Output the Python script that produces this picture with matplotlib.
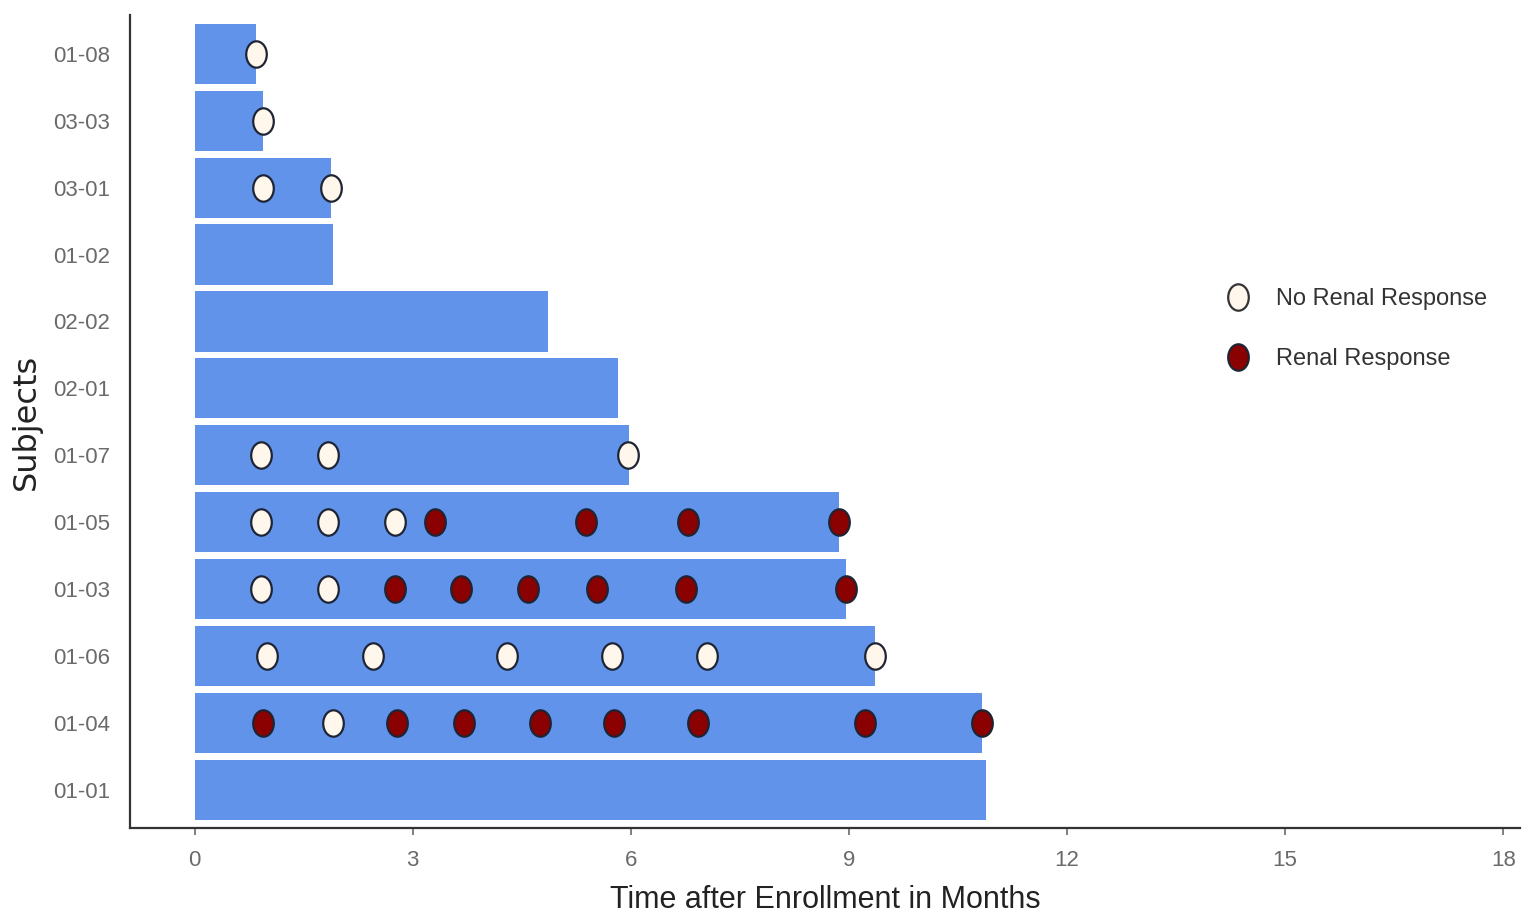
import matplotlib
matplotlib.use('Agg')
import matplotlib.pyplot as plt
from matplotlib.path import Path
from matplotlib.transforms import Affine2D
from matplotlib.lines import Line2D

plt.rcParams['font.family'] = ['Liberation Sans Narrow', 'Liberation Sans', 'DejaVu Sans']

# subjects, bottom to top
subjects = ['01-01', '01-04', '01-06', '01-03', '01-05', '01-07',
            '02-01', '02-02', '01-02', '03-01', '03-03', '01-08']
# months on study
durations = [10.88, 10.83, 9.36, 8.96, 8.86, 5.97,
             5.83, 4.86, 1.90, 1.87, 0.94, 0.84]

# visits with no renal response (subject, month)
no_resp_subj = ['01-08', '03-03', '03-01', '03-01',
                '01-07', '01-07', '01-07',
                '01-05', '01-05', '01-05',
                '01-03', '01-03',
                '01-06', '01-06', '01-06', '01-06', '01-06', '01-06',
                '01-04']
no_resp_month = [0.85, 0.94, 0.94, 1.87,
                 0.91, 1.83, 5.96,
                 0.91, 1.83, 2.75,
                 0.91, 1.83,
                 1.00, 2.45, 4.29, 5.74, 7.05, 9.36,
                 1.90]

# visits with renal response
resp_subj = ['01-05', '01-05', '01-05', '01-05',
             '01-03', '01-03', '01-03', '01-03', '01-03', '01-03',
             '01-04', '01-04', '01-04', '01-04', '01-04', '01-04', '01-04', '01-04']
resp_month = [3.30, 5.38, 6.78, 8.86,
              2.75, 3.66, 4.58, 5.53, 6.76, 8.96,
              0.94, 2.78, 3.70, 4.75, 5.77, 6.92, 9.22, 10.83]

x_ticks = [0, 3, 6, 9, 12, 15, 18]

bar_color = '#6193EA'
red = '#8B0000'
cream = '#FFF6EC'
edge = '#1E2433'
gray = '#6A6A6A'

# slightly narrow ellipse marker
ellipse = Path.unit_circle().transformed(Affine2D().scale(0.78, 1.0))

fig = plt.figure(figsize=(15.25, 9.18), dpi=100)
ax = fig.add_axes([0.0852, 0.098, 0.9115, 0.8857])

pos = {s: i for i, s in enumerate(subjects)}
ax.barh(range(len(subjects)), durations, height=0.9, color=bar_color, zorder=1)

ax.plot(no_resp_month, [pos[s] for s in no_resp_subj], linestyle='none',
        marker=ellipse, markersize=19, markerfacecolor=cream,
        markeredgecolor=edge, markeredgewidth=1.6, zorder=3)
ax.plot(resp_month, [pos[s] for s in resp_subj], linestyle='none',
        marker=ellipse, markersize=19, markerfacecolor=red,
        markeredgecolor=edge, markeredgewidth=1.6, zorder=3)

ax.set_xlim(-0.89, 18.23)
ax.set_ylim(-0.57, 11.58)
ax.set_xticks(x_ticks)
ax.set_xticklabels([str(t) for t in x_ticks])
ax.set_yticks(range(len(subjects)))
ax.set_yticklabels(subjects)

for side in ['top', 'right']:
    ax.spines[side].set_visible(False)
for side in ['left', 'bottom']:
    ax.spines[side].set_color('#333333')
    ax.spines[side].set_linewidth(1.6)

ax.tick_params(axis='x', colors=gray, labelsize=16, length=5, width=1.2, pad=11)
ax.tick_params(axis='y', colors=gray, labelsize=16, length=0, pad=14)

ax.set_xlabel('Time after Enrollment in Months', fontsize=22, color='#222222', labelpad=10)
ax.set_ylabel('Subjects', fontsize=23, color='#222222', family=['DejaVu Sans'], labelpad=8)

handles = [
    Line2D([], [], linestyle='none', marker=ellipse, markersize=19,
           markerfacecolor=cream, markeredgecolor='#333333', markeredgewidth=1.6),
    Line2D([], [], linestyle='none', marker=ellipse, markersize=19,
           markerfacecolor=red, markeredgecolor=edge, markeredgewidth=1.6),
]
leg = ax.legend(handles, ['No Renal Response', 'Renal Response'],
                loc='upper left', bbox_to_anchor=(0.765, 0.69), frameon=False,
                fontsize=17, labelspacing=1.6, handletextpad=0.6)
for t in leg.get_texts():
    t.set_color('#333333')

fig.savefig('out.png', dpi=100, facecolor='white')
